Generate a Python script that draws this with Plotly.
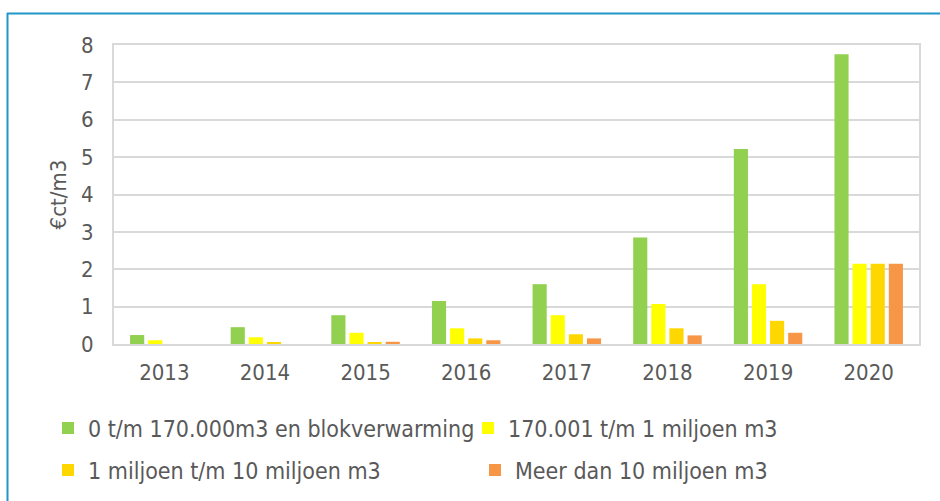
import plotly.graph_objects as go

years = ["2013", "2014", "2015", "2016", "2017", "2018", "2019", "2020"]
klein = [0.24, 0.45, 0.77, 1.15, 1.60, 2.85, 5.22, 7.75]
midden = [0.10, 0.18, 0.30, 0.42, 0.77, 1.07, 1.60, 2.15]
groot = [0.00, 0.05, 0.05, 0.15, 0.26, 0.42, 0.62, 2.15]
zeer_groot = [0.00, 0.00, 0.06, 0.10, 0.15, 0.23, 0.30, 2.15]

names = ["0 t/m 170.000m3 en blokverwarming", "170.001 t/m 1 miljoen m3",
         "1 miljoen t/m 10 miljoen m3", "Meer dan 10 miljoen m3"]
colors = ["#92D050", "#FFFF00", "#FFD700", "#F79646"]
legends = ["legend", "legend", "legend2", "legend3"]

fig = go.Figure()
for vals, name, col, lg in zip([klein, midden, groot, zeer_groot], names, colors, legends):
    fig.add_trace(go.Bar(x=years, y=vals, name=name, marker_color=col,
                         marker_line_width=0, legend=lg))

W, H = 940, 501
L, R, T, B = 114, 21, 45, 157
pw, ph = W - L - R, H - T - B


def px(x):
    return (x - L) / pw


def py(y):
    return (H - B - y) / ph


font = dict(family="DejaVu Sans Condensed", size=22, color="#595959")

leg = dict(orientation="h", xanchor="left", yanchor="middle",
           font=dict(font, size=23), itemwidth=30, bgcolor="rgba(0,0,0,0)",
           traceorder="normal")

fig.update_layout(
    width=W, height=H,
    margin=dict(l=L, r=R, t=T, b=B, autoexpand=False),
    paper_bgcolor="white", plot_bgcolor="white",
    font=font,
    bargap=0.28, bargroupgap=0.22,
    xaxis=dict(showline=True, linecolor="#d9d9d9", linewidth=2, mirror=True,
               ticks="", tickfont=font, ticklabelstandoff=8),
    yaxis=dict(range=[0, 8], dtick=1, showgrid=True, gridcolor="#d9d9d9", gridwidth=2,
               showline=True, linecolor="#d9d9d9", linewidth=2, mirror=True,
               zeroline=False, ticks="", tickfont=font, ticklabelstandoff=14,
               title=dict(text="€ct/m3", font=font, standoff=8)),
    legend=dict(leg, x=px(48), y=py(428), entrywidth=375, entrywidthmode="pixels"),
    legend2=dict(leg, x=px(48), y=py(470)),
    legend3=dict(leg, x=px(475), y=py(470)),
    showlegend=True,
    shapes=[
        dict(type="line", xref="paper", yref="paper", x0=px(7), x1=px(945),
             y0=py(13.5), y1=py(13.5), line=dict(color="#2196C9", width=2)),
        dict(type="line", xref="paper", yref="paper", x0=px(7.5), x1=px(7.5),
             y0=py(13), y1=py(505), line=dict(color="#2196C9", width=2)),
    ],
)

fig.write_html("out.html", config={"displayModeBar": False},
               post_script="document.body.style.margin='0px';")
